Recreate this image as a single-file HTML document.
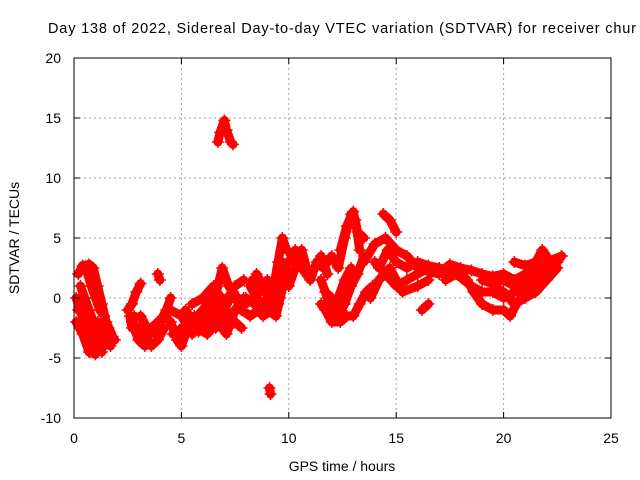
<!DOCTYPE html>
<html><head><meta charset="utf-8"><style>
body{margin:0;background:#fff}
svg{display:block;font-family:"Liberation Sans",sans-serif}
</style></head><body>
<svg id="c" width="640" height="480">
<rect width="640" height="480" fill="#fff"/>
<text x="48" y="33" font-size="14.5" textLength="588" lengthAdjust="spacing">Day 138 of 2022, Sidereal Day-to-day VTEC variation (SDTVAR) for receiver chur</text>
<g id="grid"></g>
<g id="data"></g>
<rect x="74" y="58" width="537" height="360" fill="none" stroke="#000"/>
<g id="axes"></g>
<text x="342" y="471" font-size="14" text-anchor="middle">GPS time / hours</text>
<text transform="translate(19,238) rotate(-90)" font-size="14" text-anchor="middle">SDTVAR / TECUs</text>
</svg>
<script>
const xTicks=[0,5,10,15,20,25];
const yTicks=[-10,-5,0,5,10,15,20];
const tracks=[
[[0.1,0],[0.3,-1],[0.5,-2.5],[0.8,-4],[1,-4.6],[1.3,-4.2],[1.6,-3.5],[1.9,-3.5]],
[[0.1,-2],[0.4,-3],[0.7,-4.5],[1,-4.7]],
[[0.2,2],[0.4,2.7],[0.7,2.8],[0.9,2.5],[1.1,1],[1.3,-0.5],[1.5,-2],[1.8,-3.2]],
[[0.3,1],[0.5,0],[0.7,-1],[0.9,-2],[1.1,-3.5],[1.3,-4.5]],
[[0.6,2.2],[0.8,1],[1,0],[1.2,-1],[1.4,-1.5],[1.6,-2.5],[1.8,-3.5]],
[[0.2,-1],[0.5,-1.5],[0.8,-2.5],[1.1,-2],[1.4,-3],[1.7,-4]],
[[2.5,-1],[2.7,-0.5],[2.9,0.5],[3.1,1.2]],
[[2.6,-1.5],[2.7,-2.5],[2.8,-1.5]],
[[2.7,-2],[3,-3.5],[3.3,-4],[3.6,-2.5],[3.9,-2],[4.2,-1.5],[4.5,-2]],
[[3.1,-1.5],[3.4,-2.5],[3.8,-3],[4,-2],[4.3,-1],[4.5,0]],
[[3,-2.5],[3.3,-3],[3.6,-4],[3.9,-3.5],[4.2,-2.5]],
[[3.9,2],[4,1.5]],
[[4.5,-2],[4.8,-3.5],[5,-4],[5.3,-2.5],[5.6,-1.5],[6,-2.5],[6.3,-2],[6.6,-1],[6.9,0],[7.2,-1.5],[7.5,-2],[7.8,-2.5]],
[[4.5,-1],[5,-1.5],[5.5,-3],[6,-2],[6.5,-0.5],[6.9,2.5],[7.2,1],[7.6,0],[8,-0.5]],
[[5,-2.5],[5.5,-2],[6,-1],[6.4,0],[6.8,-1.5],[7.2,-2.5]],
[[4.6,-3],[5,-3],[5.4,-2],[5.8,-2.8],[6.2,-1.5],[6.6,-2.5],[7,-1],[7.4,0.5],[7.8,-1]],
[[5.2,-1],[5.7,-2.5],[6.2,-3],[6.7,-2],[7.1,-3],[7.5,-1],[7.9,0]],
[[5.5,-0.5],[6,0],[6.5,1],[7,-0.5],[7.5,1],[7.9,1.5]],
[[6.7,13],[6.8,13.8],[7,14.8],[7.1,14],[7.3,13],[7.4,12.8]],
[[9.1,-7.5],[9.15,-8]],
[[7.8,-1],[8.2,-1.5],[8.6,-1],[9,0],[9.3,1],[9.5,3],[9.7,5],[9.9,4]],
[[8.2,1],[8.5,0],[9,-1],[9.4,-1.5],[9.6,0],[9.8,1.5]],
[[8.5,2],[8.8,1],[9.2,0.5],[9.5,-0.5]],
[[8,0],[8.4,-0.5],[8.8,-1.5],[9.2,-1],[9.6,1],[9.9,2.5]],
[[8.3,1.5],[8.7,0.5],[9,1.5],[9.3,-0.5],[9.7,3],[10,2]],
[[10,3],[10.3,4],[10.6,2.5],[11,1.5],[11.3,3],[11.6,2.5],[12,3.5],[12.3,2.5],[12.6,5],[12.9,7],[13.1,6.5],[13.3,4]],
[[10,1],[10.3,2.5],[10.6,4],[10.9,2],[11.2,2.5],[11.5,3.5],[11.8,2]],
[[11.5,-0.5],[11.7,-1],[12,-2],[12.4,-2],[12.7,-1.5],[13,-1.5],[13.3,-0.5],[13.6,0.5],[13.9,1]],
[[11.5,1.5],[11.8,0],[12,-1],[12.3,0],[12.6,1.5],[12.9,2.5]],
[[11.7,0.5],[12,0],[12.3,-1.5],[12.6,-0.5],[12.9,1],[13.2,2],[13.5,3.5]],
[[12.4,4],[12.7,6],[13,7.2],[13.2,5.5],[13.5,5]],
[[13.5,3],[14,4.5],[14.5,5],[15,4],[15.5,3.5],[16,2.5],[16.5,2.2],[17,2]],
[[14.4,7],[14.7,6.5],[15,5.5]],
[[14,3],[14.5,2],[15,1],[15.5,1.5],[16,2],[16.5,2.5]],
[[13.8,0],[14.2,1.5],[14.7,2.5],[15.3,0.5],[16,1],[16.5,1.5]],
[[14.2,2.5],[14.6,4],[15,3],[15.5,2.5],[16,3],[16.5,2.7],[17,2.5]],
[[16.2,-1],[16.5,-0.5]],
[[17,2.5],[17.5,2.3],[18,2],[18.3,1.5],[18.6,0.5],[19,-0.5],[19.5,-1],[20,-1],[20.3,-1.5],[20.6,-0.5],[21,0.5],[21.5,1],[22,2],[22.5,3],[22.7,3.5]],
[[17,2],[17.5,2.8],[18,2.5],[18.5,2.3],[19,2],[19.5,1.8],[20,2],[20.5,1.5],[21,2],[21.5,2.5],[22,3],[22.7,3.5]],
[[17.3,1.5],[17.8,2],[18.5,1],[19,0.5],[19.5,0.5],[20,0],[20.5,0.5],[21,1.5],[21.5,1],[22,2.5]],
[[20.5,3],[21,2.7],[21.5,3],[21.8,4],[22,3.5]],
[[19.5,1],[20,0.5],[20.5,-0.5],[21,0],[21.5,0.5],[22,1.5],[22.5,2.5]],
[[19,1.5],[19.5,1.2],[20,1.5],[20.5,1],[21,1],[21.5,1.8],[22,2.2],[22.5,3.2]]
];
const L=74,R=611,T=58,B=418;
const sx=v=>L+(v-0)/(25-0)*(R-L);
const sy=v=>B-(v+10)/30*(B-T);
const NS="http://www.w3.org/2000/svg";
const grid=document.getElementById('grid'),axes=document.getElementById('axes'),data=document.getElementById('data');
function mk(tag,attrs,parent){const e=document.createElementNS(NS,tag);for(const k in attrs)e.setAttribute(k,attrs[k]);parent.appendChild(e);return e;}
xTicks.forEach(t=>{const x=sx(t);
 if(t>0&&t<25){const g=mk('line',{x1:x,x2:x,y1:T,y2:B,stroke:'#a0a0a0','stroke-dasharray':'2,3'},grid);
 
 }
 mk('line',{x1:x,x2:x,y1:B,y2:B-6,stroke:'#000'},axes);mk('line',{x1:x,x2:x,y1:T,y2:T+6,stroke:'#000'},axes);
 const tx=mk('text',{x:x,y:443,'font-size':14,'text-anchor':'middle'},axes);tx.textContent=t;
 
 
});
yTicks.forEach(t=>{const y=sy(t);
 if(t>-10&&t<20){const g=mk('line',{x1:L,x2:R,y1:y,y2:y,stroke:'#a0a0a0','stroke-dasharray':'2,3'},grid);
 
 }
 mk('line',{x1:L,x2:L+6,y1:y,y2:y,stroke:'#000'},axes);mk('line',{x1:R,x2:R-6,y1:y,y2:y,stroke:'#000'},axes);
 const tx=mk('text',{x:61,y:y+5,'font-size':14,'text-anchor':'end'},axes);tx.textContent=t;
 
 
});
tracks.forEach(tr=>{
 const pl=mk('polyline',{points:tr.map(p=>sx(p[0])+','+sy(p[1])).join(' '),fill:'none',stroke:'#f00','stroke-width':9,'stroke-linejoin':'round','stroke-linecap':'round'},data);
 
 
 tr.forEach(p=>{const x=sx(p[0]),y=sy(p[1]);
  const m=mk('path',{d:`M${x-6},${y}h12M${x},${y-6}v12`,stroke:'#f00','stroke-width':1.5},data);
  
  
 });
});
</script>
</body></html>
